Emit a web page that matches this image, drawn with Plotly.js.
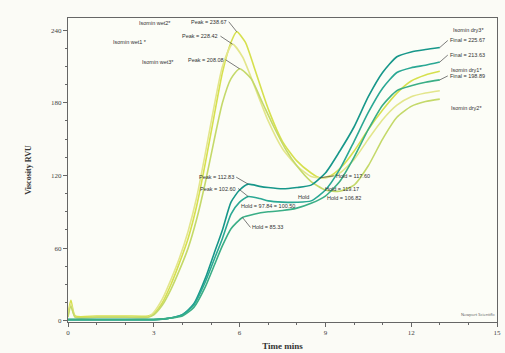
<!DOCTYPE html>
<html><head><meta charset="utf-8">
<script src="https://cdn.plot.ly/plotly-3.0.1.min.js"></script>
<style>html,body{margin:0;padding:0;background:#fbfbf6;}#chart{width:505px;height:353px;}</style>
</head><body><div id="chart"></div>
<script>
// Time (mins) and viscosity (RVU)
const wet2T = [0,0.1,0.25,1,2,2.8,3,3.3,3.6,3.9,4.2,4.5,4.8,5.1,5.4,5.7,5.9,6.2,6.5,7,7.5,8,8.5,8.8,9.2,9.6,10,10.5,11,11.5,12,12.5,13];
const wet2V = [5,17,4,4,4,4,6,15,30,48,68,95,130,168,205,230,238.67,230,210,175,148,132,122,118,120,128,140,158,174,188,198,203,206];
const wet1T = [0,0.1,0.25,1,2,2.8,3,3.3,3.6,3.9,4.2,4.5,4.8,5.1,5.4,5.75,6.1,6.5,7,7.5,8,8.5,9,9.5,10,10.5,11,11.5,12,12.5,13];
const wet1V = [4,14,3,3,3,3,7,18,34,52,74,102,138,176,210,228.42,218,195,165,142,128,119.17,118,122,133,150,166,178,185,188,190];
const wet3T = [0,0.1,0.25,1,2,2.8,3,3.3,3.6,3.9,4.2,4.5,4.8,5.1,5.4,5.7,6.0,6.4,6.8,7.2,7.6,8,8.5,9,9.5,10,10.5,11,11.5,12,12.5,13];
const wet3V = [3,12,3,3,3,3,5,13,26,42,60,84,114,148,180,200,208.08,200,180,160,142,128,115,108,107,112,128,150,168,177,181,183];
const dry3T = [0,0.5,1,2,3,3.5,4,4.4,4.8,5.1,5.4,5.7,6.0,6.3,6.7,7,7.5,8,8.5,9,9.5,10,10.5,11,11.5,12,12.5,13];
const dry3V = [1,1,1,1,1,2,5,14,35,55,75,98,108,112.83,111,110,109,110,112,122,140,160,185,205,218,222,224,225.67];
const dry1T = [0,0.5,1,2,3,3.5,4,4.4,4.8,5.1,5.4,5.7,6.0,6.3,6.7,7,7.5,8,8.5,9,9.5,10,10.5,11,11.5,12,12.5,13];
const dry1V = [1,1,1,1,1,2,5,13,32,50,68,88,98,102.6,101,99,98,97.84,99,108,125,148,172,192,205,209,211,213.63];
const dry2T = [0,0.5,1,2,3,3.5,4,4.4,4.8,5.1,5.4,5.7,6.1,6.5,7,7.5,8,8.5,9,9.5,10,10.5,11,11.5,12,12.5,13];
const dry2V = [1,1,1,1,1,2,4,11,28,45,62,76,85.33,88,90,91,93,97,103,115,135,158,178,190,194,197,198.89];
const seriesNames = ['Isomin wet2*','Isomin wet1 *','Isomin wet3*','Isomin dry3*','Isomin dry1*','Isomin dry2*'];
const xTickVals = [0,3,6,9,12,15];
const yTickVals = [0,60,120,180,240];

const colors = ['#d6e04e','#e3e68c','#c4d96a','#17978a','#2aa894','#3aae86'];
const T = [wet2T,wet1T,wet3T,dry3T,dry1T,dry2T];
const V = [wet2V,wet1V,wet3V,dry3V,dry1V,dry2V];
const traces = T.map((t,i)=>({x:t,y:V[i],type:'scatter',mode:'lines',name:seriesNames[i],
  line:{color:colors[i],width:1.6,shape:'spline',smoothing:0.6},hoverinfo:'skip'}));

// peak = highest point before the hold stage (t < 7.5)
function peakIdx(t,v){let m=0;for(let i=1;i<v.length;i++) if(t[i]<7.5 && v[i]>v[m]) m=i;return m;}
const txt = {size:5.5,color:'#333',family:'Liberation Sans, Arial'};
function arrowAnn(t,v,i,text,ax,ay,xanchor){
  return {x:t[i],y:v[i],text:text,showarrow:true,arrowhead:0,arrowwidth:0.7,arrowcolor:'#444',
    ax:ax,ay:ay,xanchor:xanchor||'right',font:txt,bgcolor:'rgba(0,0,0,0)'};
}
function label(px,py,text,xanchor){
  return {xref:'paper',yref:'paper',x:(px-68)/429,y:(322-py)/304,text:text,showarrow:false,
    xanchor:xanchor||'center',yanchor:'middle',font:txt};
}
const anns = [];
[[0,-8,-10],[1,-12,-8],[2,-14,-9],[3,-12,-7],[4,-10,-8]].forEach(([s,ax,ay])=>{
  const p=peakIdx(T[s],V[s]);
  anns.push(arrowAnn(T[s],V[s],p,'Peak = '+V[s][p].toFixed(2),ax,ay));
});
anns.push(label(155,23,seriesNames[0]));
anns.push(label(130,42,seriesNames[1]));
anns.push(label(158,62,seriesNames[2]));
anns.push(label(268,206,'Hold = 97.84 = 100.50'));
{const s=5,i=V[5].indexOf(85.33);anns.push(arrowAnn(T[s],V[s],i,'Hold = 85.33',8,10,'left'));}
{const s=0,i=V[0].indexOf(118);anns.push(arrowAnn(T[s],V[s],i,'Hold = 117.60',14,-2,'left'));}
anns.push(label(342,189,'Hold = 119.17'));
anns.push(label(344,198,'Hold = 106.82'));
anns.push(label(303,197,'Hold'));
// finals
[[3,8,-7],[4,8,-7],[5,8,-4]].forEach(([s,ax,ay])=>{
  const n=V[s].length-1;
  anns.push(arrowAnn(T[s],V[s],n,'Final = '+V[s][n].toFixed(2),ax,ay,'left'));
});
anns.push(label(468,30,seriesNames[3]));
anns.push(label(466,70,seriesNames[4]));
anns.push(label(466,108,seriesNames[5]));
anns.push({xref:'paper',yref:'paper',x:1,y:0.01,xanchor:'right',yanchor:'bottom',text:'Newport Scientific',showarrow:false,font:{size:4,color:'#555'}});

const tickFont = {family:'Liberation Serif, Times New Roman, serif',size:7,color:'#444'};
const layout = {
  width:505,height:353,
  margin:{l:68,r:8,t:18,b:31},
  paper_bgcolor:'#fbfbf6',plot_bgcolor:'#fcfdf7',
  showlegend:false,
  xaxis:{range:[0,15],tickvals:xTickVals,ticktext:xTickVals.map(String),ticks:'outside',ticklen:4,
    tickcolor:'#666',showline:true,linecolor:'#666',linewidth:1,mirror:true,showgrid:false,zeroline:false,
    tickfont:tickFont,minor:{dtick:1,ticks:'outside',ticklen:2,tickcolor:'#666'},
    title:{text:'<b>Time mins</b>',font:{family:'Liberation Serif, Times New Roman, serif',size:9,color:'#333'},standoff:6}},
  yaxis:{range:[-1,250],tickvals:yTickVals,ticktext:yTickVals.map(String),ticks:'outside',ticklen:4,
    tickcolor:'#666',showline:true,linecolor:'#666',linewidth:1,mirror:true,showgrid:false,zeroline:false,
    tickfont:tickFont,minor:{dtick:15,ticks:'outside',ticklen:2,tickcolor:'#666'},
    title:{text:'<b>Viscosity RVU</b>',font:{family:'Liberation Serif, Times New Roman, serif',size:8,color:'#333'},standoff:18}},
  annotations:anns
};
Plotly.newPlot('chart',traces,layout,{displayModeBar:false,staticPlot:true});
</script></body></html>
